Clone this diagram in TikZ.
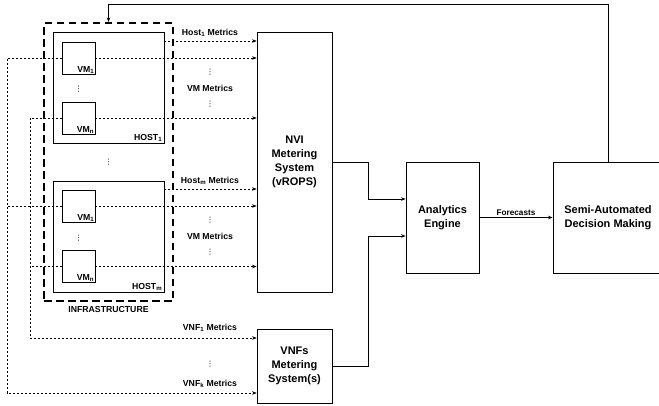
\documentclass[tikz,border=0pt]{standalone}
\usepackage{fontspec}
\setmainfont{Liberation Sans}
\newfontfamily\symfont{DejaVu Sans}
\usetikzlibrary{arrows.meta,calc}

\newcommand{\sub}[1]{\textsubscript{#1}}

\tikzset{
  x=1pt, y=-1pt,
  box/.style={draw, line width=0.8pt, rectangle, inner sep=0pt, anchor=center},
  bigtext/.style={font=\fontsize{11}{13.8}\selectfont\bfseries, align=center},
  smalltext/.style={font=\fontsize{8.7}{10}\selectfont\bfseries, inner sep=1pt},
  infrabox/.style={draw, line width=2pt, dash pattern=on 7.5pt off 4.5pt},
  dotarrow/.style={line width=0.6pt, dash pattern=on 2pt off 2pt, -{Stealth[length=4.5pt,width=3.5pt]}},
  dotline/.style={line width=0.6pt, dash pattern=on 2pt off 2pt},
  solidarrow/.style={line width=0.8pt, -{Stealth[length=4.5pt,width=3.5pt]}},
  vdotsnode/.style={font=\symfont\fontsize{7.5}{8}\selectfont, inner sep=0pt},
}

\begin{document}
\begin{tikzpicture}
\useasboundingbox (0,0) rectangle (659,405);

% infrastructure frame
\node[infrabox, minimum width=129pt, minimum height=278pt, inner sep=0pt] (infra) at (108.5,162) {};
\node[smalltext] (infralbl) at (108.5,309) {INFRASTRUCTURE};

% host 1
\node[box, minimum width=111pt, minimum height=111pt] (host1) at (108.5,87.5) {};
\node[smalltext, anchor=south east, inner sep=2pt] (host1lbl) at (host1.south east) {HOST\sub{1}};
\node[box, minimum width=33pt, minimum height=32pt] (vm11) at (78.5,58) {};
\node[smalltext, anchor=south east, inner sep=1pt] (vm11lbl) at (vm11.south east) {VM\sub{1}};
\node[box, minimum width=33pt, minimum height=32pt] (vmn1) at (78.5,118) {};
\node[smalltext, anchor=south east, inner sep=1pt] (vmn1lbl) at (vmn1.south east) {VM\sub{n}};
\node[vdotsnode] (d1) at (78.5,89) {⋮};

\node[vdotsnode] (dh) at (108.5,162) {⋮};

% host m
\node[box, minimum width=111pt, minimum height=111pt] (hostm) at (108.5,236.5) {};
\node[smalltext, anchor=south east, inner sep=2pt] (hostmlbl) at (hostm.south east) {HOST\sub{m}};
\node[box, minimum width=33pt, minimum height=32pt] (vm1m) at (78.5,206) {};
\node[smalltext, anchor=south east, inner sep=1pt] (vm1mlbl) at (vm1m.south east) {VM\sub{1}};
\node[box, minimum width=33pt, minimum height=32pt] (vmnm) at (78.5,266.5) {};
\node[smalltext, anchor=south east, inner sep=1pt] (vmnmlbl) at (vmnm.south east) {VM\sub{n}};
\node[vdotsnode] (d2) at (78.5,238) {⋮};

% metering systems, analytics, decision making
\node[box, minimum width=75pt, minimum height=260pt, bigtext] (nvi) at (294.5,162) {NVI\\Metering\\System\\(vROPS)};
\node[box, minimum width=75pt, minimum height=74pt, bigtext] (vnf) at (294.5,366) {VNFs\\Metering\\System(s)};
\node[box, minimum width=73pt, minimum height=111pt, bigtext] (ana) at (442.5,217.5) {Analytics\\Engine};
\node[box, minimum width=110pt, minimum height=111pt, bigtext] (semi) at (608,217.5) {Semi-Automated\\Decision Making};

% metric labels
\node[smalltext] (l1) at (210,33) {Host\sub{1} Metrics};
\node[vdotsnode] (l1a) at (210,72) {⋮};
\node[smalltext] (l2) at (210,88) {VM Metrics};
\node[vdotsnode] (l2a) at (210,104) {⋮};
\node[smalltext] (l3) at (210,181) {Host\sub{m} Metrics};
\node[vdotsnode] (l3a) at (210,220) {⋮};
\node[smalltext] (l4) at (210,236) {VM Metrics};
\node[vdotsnode] (l4a) at (210,252) {⋮};
\node[smalltext] (l5) at (210,328) {VNF\sub{1} Metrics};
\node[vdotsnode] (l5a) at (210,364) {⋮};
\node[smalltext] (l6) at (210,384) {VNF\sub{k} Metrics};

% rails and row coordinates
\coordinate (railA) at (7,0);
\coordinate (railB) at (30,0);
\coordinate (row1) at (0,41);
\coordinate (rowm) at (0,189);
\coordinate (rowv1) at (0,338);
\coordinate (rowvk) at (0,393);
\coordinate (topline) at (0,4.5);

% host metrics
\draw[dotarrow] (row1 -| host1.east) -- (row1 -| nvi.west);
\draw[dotarrow] (rowm -| hostm.east) -- (rowm -| nvi.west);
% VM metrics
\draw[dotarrow] (vm11.east) -- (vm11.east -| nvi.west);
\draw[dotarrow] (vmn1.east) -- (vmn1.east -| nvi.west);
\draw[dotarrow] (vm1m.east) -- (vm1m.east -| nvi.west);
\draw[dotarrow] (vmnm.east) -- (vmnm.east -| nvi.west);
% VNF metrics
\draw[dotarrow] (vm11.west) -| (railA |- rowvk) -- (rowvk -| vnf.west);
\draw[dotline] (vm1m.west) -- (vm1m.west -| railA);
\draw[dotarrow] (vmn1.west) -| (railB |- rowv1) -- (rowv1 -| vnf.west);
\draw[dotline] (vmnm.west) -- (vmnm.west -| railB);

% data flow
\draw[solidarrow] (nvi.east) -- ++(36,0) |- ($(ana.west)+(0,-18.5)$);
\draw[solidarrow] (vnf.east) -- ++(36,0) |- ($(ana.west)+(0,18.5)$);
\draw[solidarrow] (ana.east) -- node[above, smalltext, font=\fontsize{8.2}{9}\selectfont\bfseries, yshift=1pt] (fc) {Forecasts} (semi.west);
\draw[solidarrow] (semi.north) |- (topline -| infra.north) -- (infra.north);
\end{tikzpicture}
\end{document}
